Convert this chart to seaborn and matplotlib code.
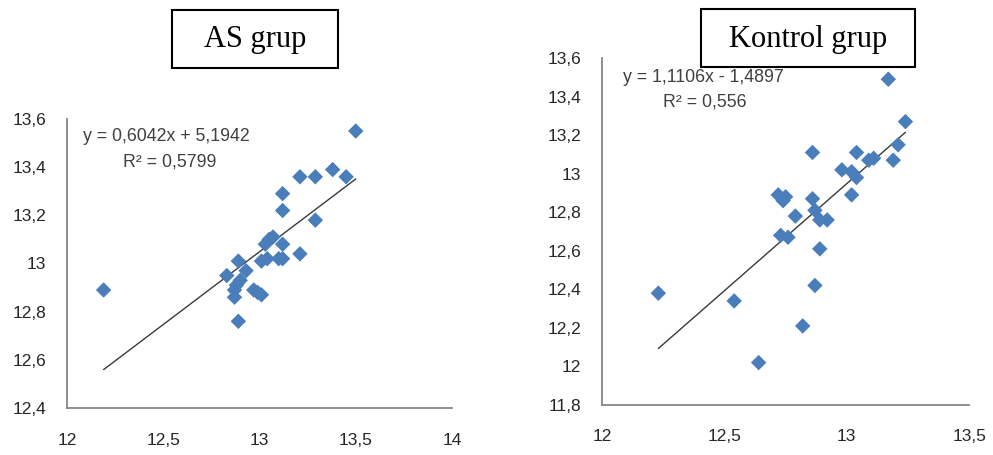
#!/usr/bin/env python3
"""
Dos diagramas de dispersión (AS grup / Kontrol grup) con línea de tendencia.
"""

import numpy as np
import pandas as pd
import matplotlib
matplotlib.use('Agg')
import matplotlib.pyplot as plt
from matplotlib.patches import Rectangle
from matplotlib.ticker import FuncFormatter, MultipleLocator
import seaborn as sns

# --- Datos ---
as_x = [12.19, 13.50, 13.21, 13.29, 13.38, 13.45, 13.12, 13.12, 13.29, 13.21,
        13.07, 13.05, 13.03, 13.12, 13.01, 13.04, 13.10, 13.12, 12.89, 12.83,
        12.93, 12.90, 12.88, 12.87, 12.87, 12.97, 13.01, 12.89, 12.99]
as_y = [12.89, 13.55, 13.36, 13.36, 13.39, 13.36, 13.29, 13.22, 13.18, 13.04,
        13.11, 13.10, 13.08, 13.08, 13.01, 13.02, 13.02, 13.02, 13.01, 12.95,
        12.97, 12.93, 12.91, 12.89, 12.86, 12.89, 12.87, 12.76, 12.88]

kontrol_x = [13.17, 13.24, 13.21, 13.19, 12.86, 13.04, 13.09, 13.11, 12.98, 13.02,
             13.04, 13.02, 12.72, 12.75, 12.74, 12.86, 12.87, 12.89, 12.92, 12.79,
             12.73, 12.76, 12.89, 12.87, 12.23, 12.54, 12.82, 12.64]
kontrol_y = [13.49, 13.27, 13.15, 13.07, 13.11, 13.11, 13.07, 13.08, 13.02, 13.01,
             12.98, 12.89, 12.89, 12.88, 12.86, 12.87, 12.81, 12.76, 12.76, 12.78,
             12.68, 12.67, 12.61, 12.42, 12.38, 12.34, 12.21, 12.02]

as_fit = (0.6042, 5.1942)
kontrol_fit = (1.1106, -1.4897)
as_eq = ['y = 0,6042x + 5,1942', 'R² = 0,5799']
kontrol_eq = ['y = 1,1106x - 1,4897', 'R² = 0,556']

MARKER_COLOR = '#4A7EBB'
AXIS_COLOR = '#868686'
TEXT_COLOR = '#262626'


def coma(v, pos):
    return ('%g' % round(v, 2)).replace('.', ',')


def dibujar(ax, xs, ys, fit, eq, xlim, ylim, eq_pos, xpad):
    df = pd.DataFrame({'x': xs, 'y': ys})
    sns.scatterplot(data=df, x='x', y='y', ax=ax, marker='D', s=62,
                    color=MARKER_COLOR, edgecolor='none', zorder=3)

    # línea de tendencia (Excel la dibuja entre el mínimo y el máximo de x)
    lx = np.array([df['x'].min(), df['x'].max()])
    ly = fit[0] * lx + fit[1]
    ax.plot(lx, ly, color='#3a3a3a', lw=1.0, zorder=2)

    ax.set_xlim(*xlim)
    ax.set_ylim(*ylim)
    ax.xaxis.set_major_locator(MultipleLocator(0.5))
    ax.yaxis.set_major_locator(MultipleLocator(0.2))
    ax.xaxis.set_major_formatter(FuncFormatter(coma))
    ax.yaxis.set_major_formatter(FuncFormatter(coma))
    ax.set_xlabel('')
    ax.set_ylabel('')

    for side in ['top', 'right']:
        ax.spines[side].set_visible(False)
    for side in ['left', 'bottom']:
        ax.spines[side].set_color(AXIS_COLOR)
        ax.spines[side].set_linewidth(1.3)
    ax.tick_params(axis='both', direction='out', length=5, width=1.2,
                   color=AXIS_COLOR, labelcolor=TEXT_COLOR, labelsize=12.5)
    ax.tick_params(axis='x', pad=xpad)
    ax.tick_params(axis='y', pad=10)
    ax.grid(False)

    (x1, y1), (x2, y2) = eq_pos
    ax.text(x1, y1, eq[0], transform=ax.transAxes, fontsize=12.8,
            color='#404040', ha='left', va='center')
    ax.text(x2, y2, eq[1], transform=ax.transAxes, fontsize=12.8,
            color='#404040', ha='left', va='center')


sns.set_style('white')
plt.rcParams['font.family'] = ['Liberation Sans', 'DejaVu Sans']

fig = plt.figure(figsize=(9.93, 4.55), dpi=100)
ax1 = fig.add_axes([0.0675, 0.1033, 0.3877, 0.6352])
ax2 = fig.add_axes([0.6063, 0.1099, 0.3696, 0.7626])

dibujar(ax1, as_x, as_y, as_fit, as_eq, (12, 14), (12.4, 13.6),
        [(0.041, 0.939), (0.145, 0.852)], xpad=13)
dibujar(ax2, kontrol_x, kontrol_y, kontrol_fit, kontrol_eq, (12, 13.5), (11.8, 13.6),
        [(0.056, 0.944), (0.166, 0.874)], xpad=12)

# títulos en recuadro
titulos = [('AS grup', 172, 10, 166, 58), ('Kontrol grup', 701, 9, 214, 58)]
W, H = 993, 455
for texto, px, py, pw, ph in titulos:
    fig.add_artist(Rectangle((px / W, 1 - (py + ph) / H), pw / W, ph / H,
                             transform=fig.transFigure, fill=True,
                             facecolor='white', edgecolor='black', lw=1.5, zorder=5))
    fig.text((px + pw / 2) / W, 1 - (py + ph / 2 + 1) / H, texto,
             family='Liberation Serif', fontsize=22, ha='center', va='center',
             color='black', zorder=6)

fig.savefig('out.png', dpi=100)
